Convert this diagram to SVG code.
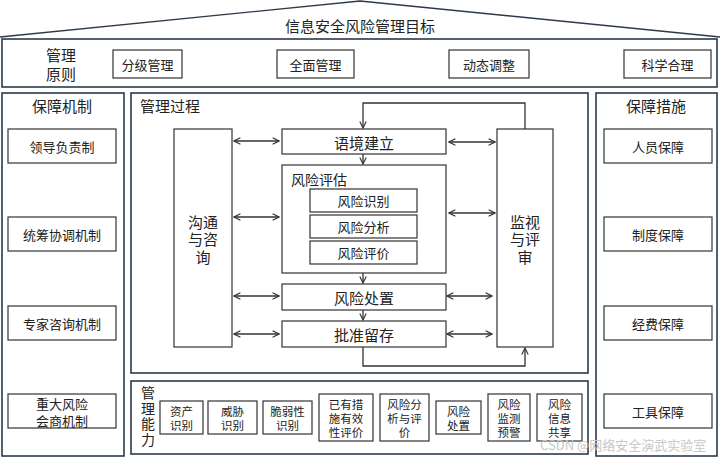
<svg xmlns="http://www.w3.org/2000/svg" width="720" height="458" viewBox="0 0 720 458">
<defs>
<style>
text{font-family:"Noto Sans CJK SC","Liberation Sans",sans-serif;fill:#222;text-anchor:middle;dominant-baseline:central}
.panel{fill:#fff;stroke:#2b3a4a;stroke-width:1.6}
.box{fill:#fff;stroke:#333;stroke-width:1.2}
.t15{font-size:15px}
.t14{font-size:14px}
.t13{font-size:13px}
.t12{font-size:11.5px}
.ln{fill:none;stroke:#333;stroke-width:1.3}
.wm{font-size:13px;fill:#c8c8c8;text-anchor:start}
</style>
<marker id="ah" viewBox="0 0 10 10" refX="9" refY="5" markerWidth="8" markerHeight="8" orient="auto-start-reverse" markerUnits="userSpaceOnUse">
<path d="M1,1 L9,5 L1,9" fill="none" stroke="#333" stroke-width="1.4"/>
</marker>
</defs>
<rect width="720" height="458" fill="#fff"/>

<g id="roof">
<polyline points="0,37 360,1 720,37" fill="none" stroke="#2b3a4a" stroke-width="1.4"/>
<text x="360" y="25" class="t15">信息安全风险管理目标</text>
</g>

<g id="principles">
<rect class="panel" x="2" y="39" width="715" height="48"/>
<text x="61" y="54" class="t15">管理</text>
<text x="61" y="73" class="t15">原则</text>
<g id="p1"><rect class="box" x="113" y="50" width="69" height="28"/><text x="147.5" y="64" class="t13">分级管理</text></g>
<g id="p2"><rect class="box" x="277" y="50" width="77" height="28"/><text x="315.5" y="64" class="t13">全面管理</text></g>
<g id="p3"><rect class="box" x="449" y="50" width="80" height="28"/><text x="489" y="64" class="t13">动态调整</text></g>
<g id="p4"><rect class="box" x="624" y="50" width="87" height="28"/><text x="667.5" y="64" class="t13">科学合理</text></g>
</g>

<g id="mechanisms">
<rect class="panel" x="2" y="93" width="122" height="363"/>
<text x="62" y="105" class="t15">保障机制</text>
<g id="m1"><rect class="box" x="8" y="129" width="108" height="34"/><text x="62" y="146" class="t13">领导负责制</text></g>
<g id="m2"><rect class="box" x="8" y="217" width="108" height="34"/><text x="62" y="234" class="t13">统筹协调机制</text></g>
<g id="m3"><rect class="box" x="8" y="306" width="108" height="34"/><text x="62" y="323" class="t13">专家咨询机制</text></g>
<g id="m4"><rect class="box" x="8" y="394" width="108" height="34"/><text x="62" y="403" class="t13">重大风险</text><text x="62" y="420" class="t13">会商机制</text></g>
</g>

<g id="measures">
<rect class="panel" x="596" y="93" width="121" height="363"/>
<text x="656" y="105" class="t15">保障措施</text>
<g id="s1"><rect class="box" x="604" y="129" width="108" height="34"/><text x="658" y="146" class="t13">人员保障</text></g>
<g id="s2"><rect class="box" x="604" y="217" width="108" height="34"/><text x="658" y="234" class="t13">制度保障</text></g>
<g id="s3"><rect class="box" x="604" y="306" width="108" height="34"/><text x="658" y="323" class="t13">经费保障</text></g>
<g id="s4"><rect class="box" x="604" y="394" width="108" height="34"/><text x="658" y="411" class="t13">工具保障</text></g>
</g>

<g id="process">
<rect class="panel" x="131" y="93" width="457" height="280"/>
<text x="170" y="105" class="t15">管理过程</text>
</g>

<g id="comm"><rect class="box" x="174" y="129" width="58" height="218"/>
<text x="203" y="221" class="t15">沟通</text><text x="203" y="238.5" class="t15">与咨</text><text x="203" y="256" class="t15">询</text></g>

<g id="monitor"><rect class="box" x="497" y="129" width="56" height="218"/>
<text x="525" y="221" class="t15">监视</text><text x="525" y="238.5" class="t15">与评</text><text x="525" y="256" class="t15">审</text></g>

<g id="context"><rect class="box" x="282" y="129" width="164" height="25"/><text x="364" y="142" class="t15">语境建立</text></g>

<g id="assess"><rect class="box" x="282" y="165" width="164" height="108"/>
<text x="319" y="179" class="t14">风险评估</text>
<g id="a1"><rect class="box" x="310" y="189" width="107" height="23"/><text x="363.5" y="200.5" class="t13">风险识别</text></g>
<g id="a2"><rect class="box" x="310" y="215" width="107" height="23"/><text x="363.5" y="226.5" class="t13">风险分析</text></g>
<g id="a3"><rect class="box" x="310" y="241" width="107" height="23"/><text x="363.5" y="252.5" class="t13">风险评价</text></g>
</g>

<g id="treat"><rect class="box" x="282" y="284" width="164" height="26"/><text x="364" y="297" class="t15">风险处置</text></g>
<g id="approve"><rect class="box" x="282" y="321" width="164" height="26"/><text x="364" y="334" class="t15">批准留存</text></g>

<g id="connectors">
<line class="ln" x1="234" y1="141" x2="279" y2="141" marker-start="url(#ah)" marker-end="url(#ah)"/>
<line class="ln" x1="234" y1="217" x2="279" y2="217" marker-start="url(#ah)" marker-end="url(#ah)"/>
<line class="ln" x1="234" y1="296" x2="279" y2="296" marker-start="url(#ah)" marker-end="url(#ah)"/>
<line class="ln" x1="234" y1="334" x2="279" y2="334" marker-start="url(#ah)" marker-end="url(#ah)"/>
<line class="ln" x1="449" y1="142" x2="495" y2="142" marker-start="url(#ah)" marker-end="url(#ah)"/>
<line class="ln" x1="449" y1="213" x2="495" y2="213" marker-start="url(#ah)" marker-end="url(#ah)"/>
<line class="ln" x1="447" y1="296" x2="492" y2="296" marker-start="url(#ah)" marker-end="url(#ah)"/>
<line class="ln" x1="447" y1="334" x2="492" y2="334" marker-start="url(#ah)" marker-end="url(#ah)"/>
<line class="ln" x1="363" y1="154" x2="363" y2="164" marker-end="url(#ah)"/>
<line class="ln" x1="363" y1="273" x2="363" y2="283" marker-end="url(#ah)"/>
<line class="ln" x1="363" y1="310" x2="363" y2="320" marker-end="url(#ah)"/>
<polyline class="ln" points="525,129 525,103 363,103 363,128" marker-end="url(#ah)"/>
<polyline class="ln" points="363,347 363,366 525,366 525,348" marker-end="url(#ah)"/>
</g>

<g id="capability">
<rect class="panel" x="131" y="381" width="457" height="73"/>
<text x="148" y="392" class="t14">管</text><text x="148" y="407.5" class="t14">理</text><text x="148" y="423" class="t14">能</text><text x="148" y="438.5" class="t14">力</text>
<g id="c1"><rect class="box" x="160" y="401" width="43" height="33"/><text x="181.5" y="411" class="t12">资产</text><text x="181.5" y="425" class="t12">识别</text></g>
<g id="c2"><rect class="box" x="208" y="401" width="49" height="33"/><text x="232.5" y="411" class="t12">威胁</text><text x="232.5" y="425" class="t12">识别</text></g>
<g id="c3"><rect class="box" x="263" y="401" width="49" height="33"/><text x="287.5" y="411" class="t12">脆弱性</text><text x="287.5" y="425" class="t12">识别</text></g>
<g id="c4"><rect class="box" x="319" y="394" width="54" height="47"/><text x="346" y="404" class="t12">已有措</text><text x="346" y="418" class="t12">施有效</text><text x="346" y="432" class="t12">性评价</text></g>
<g id="c5"><rect class="box" x="380" y="394" width="49" height="47"/><text x="404.5" y="404" class="t12">风险分</text><text x="404.5" y="418" class="t12">析与评</text><text x="404.5" y="432" class="t12">价</text></g>
<g id="c6"><rect class="box" x="436" y="401" width="45" height="33"/><text x="458.5" y="411" class="t12">风险</text><text x="458.5" y="425" class="t12">处置</text></g>
<g id="c7"><rect class="box" x="488" y="394" width="42" height="47"/><text x="509" y="404" class="t12">风险</text><text x="509" y="418" class="t12">监测</text><text x="509" y="432" class="t12">预警</text></g>
<g id="c8"><rect class="box" x="537" y="394" width="45" height="47"/><text x="559.5" y="404" class="t12">风险</text><text x="559.5" y="418" class="t12">信息</text><text x="559.5" y="432" class="t12">共享</text></g>
</g>

<text x="540" y="444" class="wm">CSDN @网络安全演武实验室</text>
</svg>
